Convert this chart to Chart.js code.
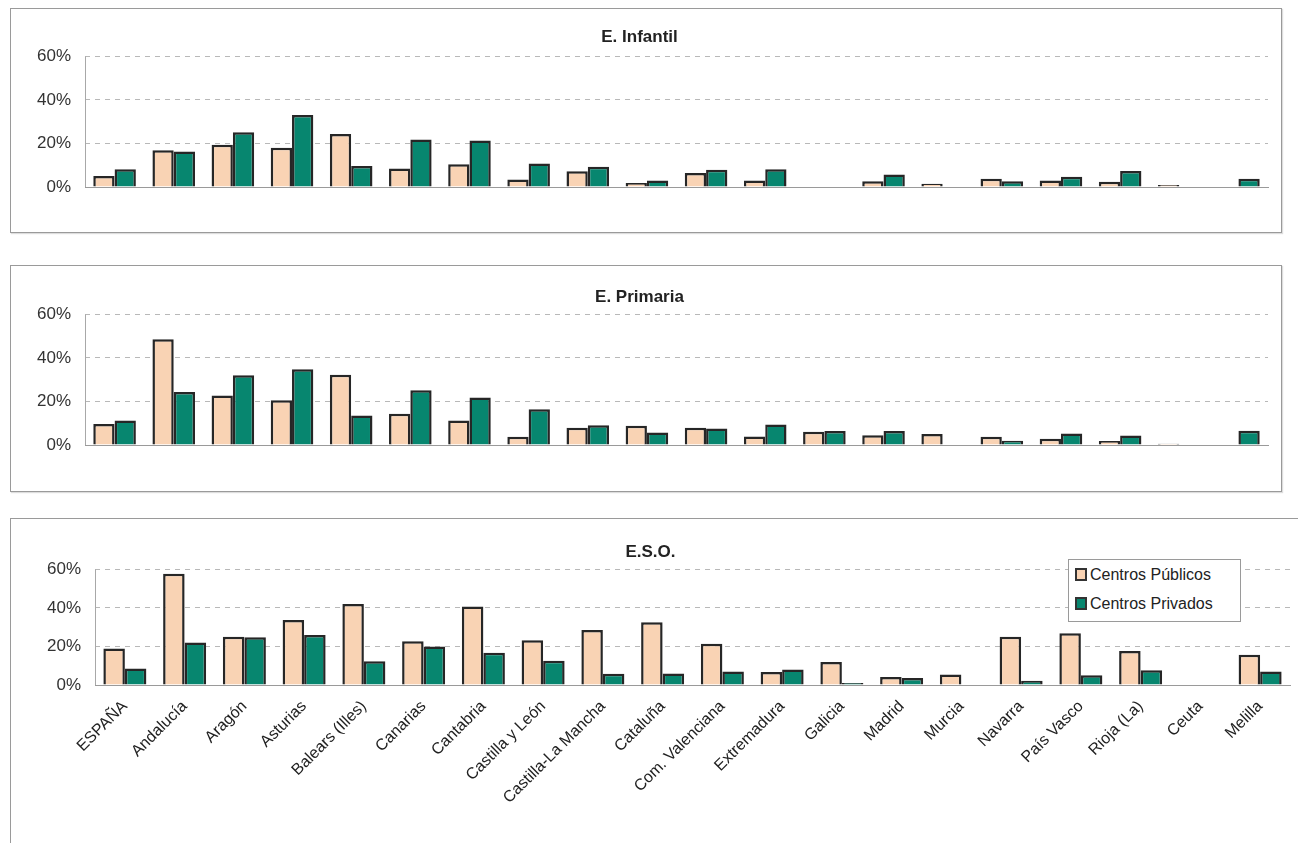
<!DOCTYPE html>
<html>
<head>
<meta charset="utf-8">
<script src="https://cdn.jsdelivr.net/npm/chart.js@4.4.1/dist/chart.umd.min.js"></script>
<style>
  body { margin: 0; background: #fff; width: 1298px; height: 843px; overflow: hidden; position: relative; font-family: "Liberation Sans", Arial, sans-serif; }
  .panel { position: absolute; border: 1px solid #9a9a9a; background: #fff; box-shadow: 1px 1px 1px #ddd; }
  .panel canvas { position: absolute; left: 0; top: 0; }
  #legend { position: absolute; left: 1068px; top: 559px; width: 171px; height: 61px; border: 1px solid #9a9a9a; background: #fff; font-size: 16px; color: #222; }
  #legend div { position: absolute; left: 6px; white-space: nowrap; }
  #legend span { display: inline-block; width: 8px; height: 9px; border: 2px solid #333; margin-right: 3px; vertical-align: -1px; }
</style>
</head>
<body>
<div class="panel" style="left:10px;top:8px;width:1270px;height:223px;"><canvas id="chartInfantil"></canvas></div>
<div class="panel" style="left:10px;top:265px;width:1270px;height:225px;"><canvas id="chartPrimaria"></canvas></div>
<div class="panel" style="left:10px;top:518px;width:1290px;height:340px;"><canvas id="chartESO"></canvas></div>
<div id="legend"></div>

<script>
// comunidades autonomas
const regions = [
  "ESPAÑA", "Andalucía", "Aragón", "Asturias", "Balears (Illes)", "Canarias",
  "Cantabria", "Castilla y León", "Castilla-La Mancha", "Cataluña",
  "Com. Valenciana", "Extremadura", "Galicia", "Madrid", "Murcia", "Navarra",
  "País Vasco", "Rioja (La)", "Ceuta", "Melilla",
];
const seriesNames = ["Centros Públicos", "Centros Privados"];
const yTicks = [0, 20, 40, 60];

// E. Infantil (%)
const infantilPublicos = [5.0, 16.9, 19.4, 18.0, 24.3, 8.5, 10.5, 3.5, 7.2, 1.8, 6.4, 3.0, null, 2.6, 1.5, 3.8, 3.0, 2.4, 0.9, null];
const infantilPrivados = [8.2, 16.3, 25.2, 33.1, 9.6, 21.8, 21.4, 10.8, 9.3, 3.0, 7.9, 8.2, null, 5.8, null, 2.6, 4.7, 7.3, null, 3.8];

// E. Primaria (%)
const primariaPublicos = [9.7, 48.6, 22.7, 20.6, 32.3, 14.4, 11.2, 3.8, 7.9, 8.9, 7.9, 3.9, 6.1, 4.5, 5.0, 3.8, 2.9, 1.8, 0.6, null];
const primariaPrivados = [11.2, 24.4, 32.0, 34.8, 13.6, 25.2, 21.8, 16.4, 9.1, 5.8, 7.6, 9.4, 6.4, 6.4, null, 2.0, 5.3, 4.4, null, 6.5];

// E.S.O. (%)
const esoPublicos = [19.0, 57.8, 25.1, 33.8, 42.1, 22.7, 40.7, 23.2, 28.5, 32.6, 21.4, 6.7, 12.0, 4.1, 5.5, 25.1, 26.8, 17.6, null, 15.7];
const esoPrivados = [8.5, 22.1, 24.8, 26.0, 12.3, 20.0, 16.8, 12.6, 5.8, 6.0, 7.0, 8.0, 1.0, 3.6, null, 2.2, 5.0, 7.7, null, 7.0];

const colorPublicos = "#f9d3b4";
const colorPrivados = "#07866f";
const barBorder = "#262626";

function buildPanel(canvasId, titleText, pub, priv, cfg) {
  const canvas = document.getElementById(canvasId);
  canvas.width = cfg.width;
  canvas.height = cfg.height;
  canvas.style.width = cfg.width + "px";
  canvas.style.height = cfg.height + "px";

  return new Chart(canvas, {
    type: "bar",
    data: {
      labels: regions,
      datasets: [
        { label: seriesNames[0], data: pub, backgroundColor: colorPublicos, borderColor: barBorder, borderWidth: 2.5 },
        { label: seriesNames[1], data: priv, backgroundColor: colorPrivados, borderColor: barBorder, borderWidth: 2.5 },
      ],
    },
    options: {
      responsive: false,
      animation: false,
      categoryPercentage: 0.72,
      barPercentage: 1.0,
      layout: { padding: { left: 0, right: cfg.right, top: 0, bottom: cfg.bottom } },
      plugins: {
        legend: { display: false },
        tooltip: { enabled: false },
        title: {
          display: true,
          text: titleText,
          color: "#222",
          font: { family: "Liberation Sans", size: 17, weight: "bold" },
          padding: { top: cfg.titleTop, bottom: cfg.titleBottom },
        },
      },
      scales: {
        x: {
          grid: { display: false },
          border: { display: true, color: "#9a9a9a", width: 1 },
          ticks: {
            display: cfg.showLabels,
            autoSkip: false,
            minRotation: 45,
            maxRotation: 45,
            padding: 4,
            color: "#222",
            font: { family: "Liberation Sans", size: 16 },
          },
          afterFit: (scale) => { scale.height = cfg.xHeight; },
        },
        y: {
          min: 0,
          max: 60,
          afterBuildTicks: (scale) => { scale.ticks = yTicks.map((v) => ({ value: v })); },
          grid: {
            drawTicks: false,
            color: (c) => (c.tick && c.tick.value === 0 ? "rgba(0,0,0,0)" : "#b8b8b8"),
          },
          // dashed gridlines
          border: { display: false, dash: [5, 5] },
          ticks: {
            padding: 14,
            color: "#333",
            font: { family: "Liberation Sans", size: 17 },
            callback: (v) => v + "%",
          },
          afterFit: (scale) => { scale.width = cfg.yWidth; },
        },
      },
    },
    plugins: [{
      id: "solidAxisLine",
      // y axis line drawn solid
      beforeDatasetsDraw(chart) {
        const a = chart.chartArea;
        const g = chart.ctx;
        g.save();
        g.strokeStyle = "#a8a8a8";
        g.lineWidth = 1;
        g.beginPath();
        g.moveTo(a.left + 0.5, a.top);
        g.lineTo(a.left + 0.5, a.bottom);
        g.stroke();
        g.restore();
      },
    }],
  });
}

buildPanel("chartInfantil", "E. Infantil", infantilPublicos, infantilPrivados, {
  width: 1270, height: 223, right: 13, bottom: 45, xHeight: 0,
  titleTop: 18, titleBottom: 9, yWidth: 74, showLabels: false,
});
buildPanel("chartPrimaria", "E. Primaria", primariaPublicos, primariaPrivados, {
  width: 1270, height: 225, right: 13, bottom: 46, xHeight: 0,
  titleTop: 21, titleBottom: 7, yWidth: 74, showLabels: false,
});
buildPanel("chartESO", "E.S.O.", esoPublicos, esoPrivados, {
  width: 1290, height: 340, right: 11, bottom: 0, xHeight: 174,
  titleTop: 23, titleBottom: 7, yWidth: 84, showLabels: true,
});

// legend for the E.S.O. panel
const legendBox = document.getElementById("legend");
[colorPublicos, colorPrivados].forEach((c, i) => {
  const row = document.createElement("div");
  row.style.top = (i === 0 ? 6 : 35) + "px";
  row.innerHTML = '<span style="background:' + c + '"></span>' + seriesNames[i];
  legendBox.appendChild(row);
});
</script>
</body>
</html>
